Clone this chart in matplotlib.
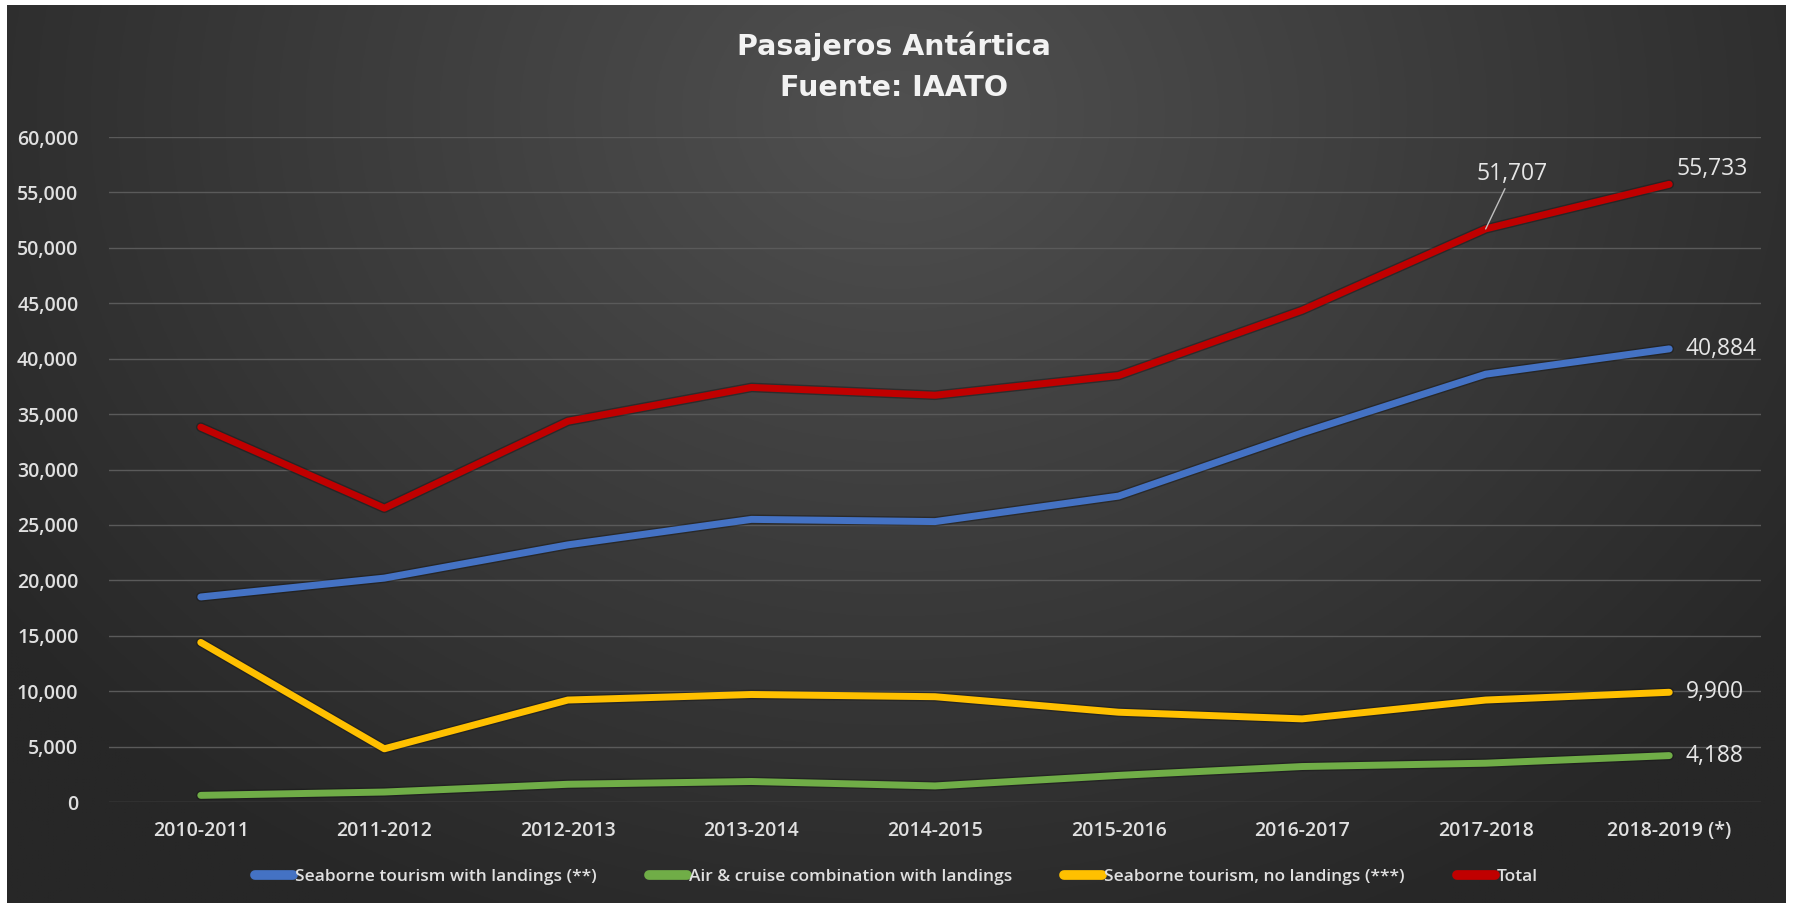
import matplotlib
matplotlib.use("Agg")
import matplotlib.pyplot as plt
import matplotlib.patheffects as pe
import numpy as np

plt.rcParams['font.family'] = ['Open Sans', 'DejaVu Sans']

temporadas = ['2010-2011', '2011-2012', '2012-2013', '2013-2014', '2014-2015',
              '2015-2016', '2016-2017', '2017-2018', '2018-2019 (*)']
con_desembarco = [18500, 20200, 23200, 25500, 25300, 27600, 33300, 38600, 40884]
aereo_crucero = [600, 900, 1600, 1850, 1450, 2400, 3200, 3500, 4188]
sin_desembarco = [14400, 4800, 9200, 9700, 9500, 8100, 7500, 9200, 9900]
total = [33824, 26509, 34354, 37405, 36702, 38478, 44367, 51707, 55733]

series = [
    ('Seaborne tourism with landings (**)', con_desembarco, '#4472C4'),
    ('Air & cruise combination with landings', aereo_crucero, '#70AD47'),
    ('Seaborne tourism, no landings (***)', sin_desembarco, '#FFC000'),
    ('Total', total, '#C00000'),
]

W, H = 1793, 908
fig = plt.figure(figsize=(W / 100, H / 100), dpi=100, facecolor='white')

# fondo oscuro con degradado radial
bg = fig.add_axes([7 / W, 5 / H, (1786 - 7) / W, (903 - 5) / H])
yy, xx = np.mgrid[0:1:300j, 0:1:600j]
r = np.sqrt(((xx - 0.5) / 0.62) ** 2 + ((yy - 0.12) / 1.0) ** 2)
r = np.clip(r, 0, 1)
c0 = np.array([0x50, 0x50, 0x50]) / 255
c1 = np.array([0x27, 0x27, 0x27]) / 255
img = c0[None, None, :] * (1 - r[..., None]) + c1[None, None, :] * r[..., None]
bg.imshow(img, aspect='auto', extent=[0, 1, 1, 0])
bg.set_axis_off()

ax = fig.add_axes([109 / W, 1 - 802 / H, (1761 - 109) / W, (802 - 137) / H])
ax.patch.set_alpha(0)
x = np.arange(len(temporadas))

for nombre, valores, color in series:
    ax.plot(x, valores, color=color, lw=5, label=nombre, solid_capstyle='round',
            solid_joinstyle='round', clip_on=False, zorder=3,
            path_effects=[pe.Stroke(linewidth=7, foreground='#151515', alpha=0.45), pe.Normal()])

ax.set_xlim(-0.5, len(temporadas) - 0.5)
ax.set_ylim(0, 60000)
ax.set_yticks(range(0, 60001, 5000))
ax.set_yticklabels([f'{v:,}' for v in range(0, 60001, 5000)])
ax.set_xticks(x)
ax.set_xticklabels(temporadas)
ax.tick_params(length=0, colors='#e0e0e0', labelsize=14)
ax.tick_params(axis='y', pad=22)
ax.tick_params(axis='x', pad=14)
for t in ax.get_xticklabels() + ax.get_yticklabels():
    t.set_fontweight('semibold')
ax.grid(axis='y', color='#5a5a5a', lw=1)
ax.set_axisbelow(True)
for s in ax.spines.values():
    s.set_visible(False)

# etiquetas de datos
ult = len(temporadas) - 1
ax.annotate(f'{total[ult]:,}', (ult, total[ult]), xytext=(5, 11), textcoords='offset points',
            color='#e6e6e6', fontsize=16.5, ha='left', va='center')
for valores in (con_desembarco, sin_desembarco, aereo_crucero):
    ax.annotate(f'{valores[ult]:,}', (ult, valores[ult]), xytext=(12, 0), textcoords='offset points',
                color='#e6e6e6', fontsize=16.5, ha='left', va='center')
ax.annotate(f'{total[7]:,}', (7, total[7]), xytext=(19, 31), textcoords='offset points',
            color='#e6e6e6', fontsize=16.5, ha='center', va='bottom',
            arrowprops=dict(arrowstyle='-', color='#bfbfbf', lw=1, shrinkA=0, shrinkB=0))

fig.text(0.4985, 1 - 46 / H, 'Pasajeros Antártica', ha='center', va='center',
         color='#f2f2f2', fontsize=20.5, fontweight='bold', family='DejaVu Sans')
fig.text(0.4985, 1 - 88 / H, 'Fuente: IAATO', ha='center', va='center',
         color='#f2f2f2', fontsize=20.5, fontweight='bold', family='DejaVu Sans')

leg = fig.legend(loc='center', bbox_to_anchor=(0.5, 1 - 877 / H), ncol=4, frameon=False,
                 handlelength=2.2, handletextpad=0.1, columnspacing=3.0,
                 prop={'size': 12.5, 'weight': 'semibold'})
for t in leg.get_texts():
    t.set_color('#e0e0e0')
for h in leg.legend_handles:
    h.set_linewidth(7)
    h.set_path_effects([])

fig.savefig('out.png', dpi=100, facecolor=fig.get_facecolor())
